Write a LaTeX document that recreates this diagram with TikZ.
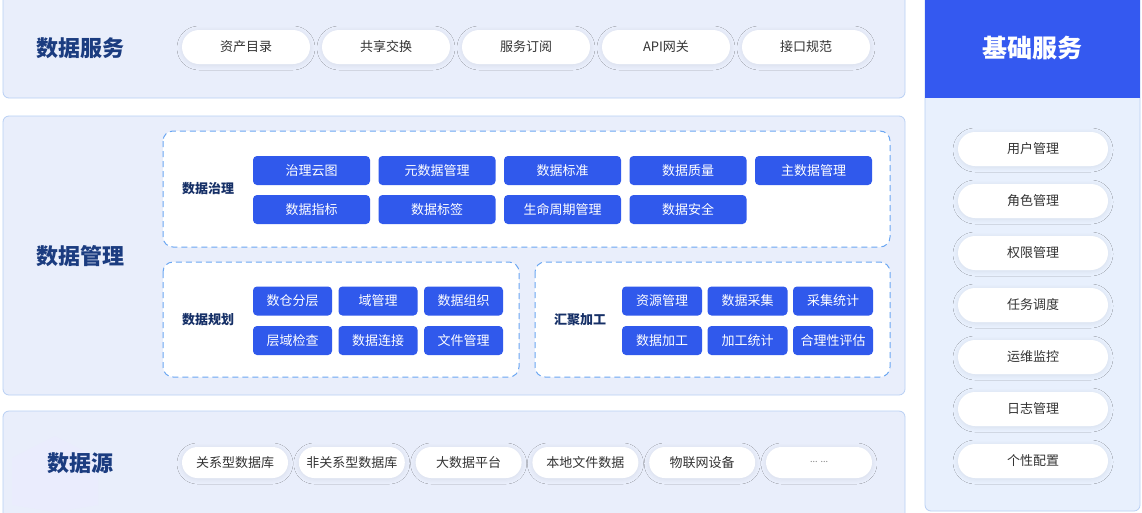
\documentclass[tikz,border=0pt]{standalone}
\usepackage{fontspec}
\setmainfont{Noto Sans CJK SC}
\usetikzlibrary{shadows.blur}
\definecolor{panelfill}{HTML}{E9EEFB}
\definecolor{panelline}{HTML}{B8CFF4}
\definecolor{navy}{HTML}{1B3C80}
\definecolor{btnblue}{HTML}{3059EC}
\definecolor{hdrblue}{HTML}{3459F0}
\definecolor{dashblue}{HTML}{6AA6F2}
\definecolor{pilltext}{HTML}{333333}
\definecolor{basefill}{HTML}{E8F0FD}
\tikzset{
  panel/.style={draw=panelline, line width=0.8pt, fill=panelfill, rounded corners=6pt},
  title/.style={font=\fontsize{22}{24}\selectfont\bfseries, text=navy, anchor=center},
  pill/.style={fill=white, rounded corners=17pt, minimum height=34pt, text=pilltext,
    font=\fontsize{13}{15}\selectfont, inner sep=0pt,
    blur shadow={shadow xshift=0pt, shadow yshift=-1pt, shadow blur steps=10, shadow blur radius=5pt, shadow opacity=7}},
  spill/.style={pill, minimum height=31pt, rounded corners=15.5pt},
  btn/.style={fill=btnblue, rounded corners=4pt, minimum height=29pt, text=white,
    font=\fontsize{13}{15}\selectfont, inner sep=0pt},
  dbox/.style={draw=dashblue, line width=1pt, dash pattern=on 6pt off 4pt, fill=white, rounded corners=10pt},
  sublabel/.style={font=\fontsize{13}{15}\selectfont\bfseries, text=navy!80!black},
}
\begin{document}
\begin{tikzpicture}[x=1pt,y=-1pt]
\useasboundingbox (0,0) rectangle (1142,512);
\fill[white] (0,0) rectangle (1142,512);
% panels
\draw[panel] (3,-8) rectangle (905,98);
\draw[panel] (3,116) rectangle (905,395);
\draw[panel] (3,411) rectangle (905,520);
\draw[draw=panelline, line width=0.8pt, fill=basefill, rounded corners=6pt] (925,-8) rectangle (1140,511);
\fill[hdrblue] (925.4,-8) rectangle (1139.6,98);
% faint icon in data source panel
\fill[blue!8, opacity=0.5] (12,458) -- (55,436) -- (98,458) -- (98,505) -- (55,512) -- (12,505) -- cycle;

% titles
\node[title] (tsvc) at (80,48) {数据服务};
\node[title] (tmgmt) at (80,256) {数据管理};
\node[title] (tsrc) at (80,463) {数据源};
\node[font=\fontsize{25}{27}\selectfont\bfseries, text=white] (tbase) at (1032,48) {基础服务};

% data services pills
\foreach \t [count=\i from 0] in {资产目录,共享交换,服务订阅,API网关,接口规范}{
  \node[pill, minimum width=128pt] (s\i) at ({246+140*\i},47) {\t};
}

% dashed boxes
\draw[dbox] (163,131) rectangle (890,247);
\draw[dbox] (163,262) rectangle (519,377);
\draw[dbox] (535,262) rectangle (890,377);
\node[sublabel] (lgov) at (208,189) {数据治理};
\node[sublabel] (lplan) at (208,320) {数据规划};
\node[sublabel] (lproc) at (580,320) {汇聚加工};

% governance buttons
\foreach \t [count=\i from 0] in {治理云图,元数据管理,数据标准,数据质量,主数据管理}{
  \node[btn, minimum width=117pt] (g1\i) at ({311.5+125.5*\i},170.5) {\t};
}
\foreach \t [count=\i from 0] in {数据指标,数据标签,生命周期管理,数据安全}{
  \node[btn, minimum width=117pt] (g2\i) at ({311.5+125.5*\i},209.5) {\t};
}
% planning buttons
\foreach \t [count=\i from 0] in {数仓分层,域管理,数据组织}{
  \node[btn, minimum width=79pt] (p1\i) at ({292.5+85.5*\i},301) {\t};
}
\foreach \t [count=\i from 0] in {层域检查,数据连接,文件管理}{
  \node[btn, minimum width=79pt] (p2\i) at ({292.5+85.5*\i},340.5) {\t};
}
% processing buttons
\foreach \t [count=\i from 0] in {资源管理,数据采集,采集统计}{
  \node[btn, minimum width=80pt] (c1\i) at ({662+85.5*\i},301) {\t};
}
\foreach \t [count=\i from 0] in {数据加工,加工统计,合理性评估}{
  \node[btn, minimum width=80pt] (c2\i) at ({662+85.5*\i},340.5) {\t};
}

% data source pills
\foreach \t [count=\i from 0] in {关系型数据库,非关系型数据库,大数据平台,本地文件数据,物联网设备,{\textcolor{gray}{\fontsize{9}{10}\selectfont\raisebox{2pt}{...\hspace{3pt}...}}}}{
  \node[spill, minimum width=106pt] (d\i) at ({235+116.8*\i},462.5) {\t};
}

% base service pills
\foreach \t [count=\i from 0] in {用户管理,角色管理,权限管理,任务调度,运维监控,日志管理,个性配置}{
  \node[pill, minimum width=150pt] (b\i) at (1033,{149+52*\i}) {\t};
}
\end{tikzpicture}
\end{document}
